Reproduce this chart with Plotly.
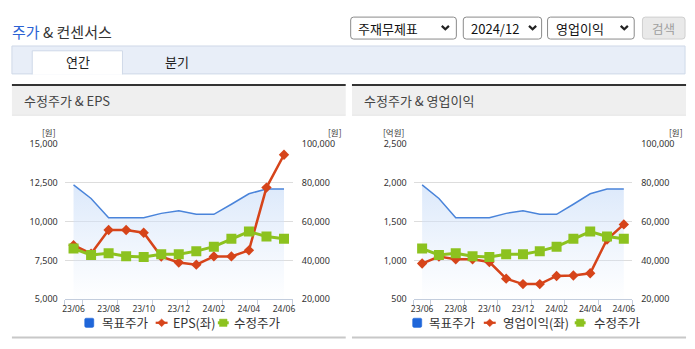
import plotly.graph_objects as go

W, H = 695, 349
KR = "Noto Sans CJK KR"
NUM = "Noto Sans"

# ---------------- data ----------------
categories = ["23/06", "23/07", "23/08", "23/09", "23/10", "23/11", "23/12",
              "24/01", "24/02", "24/03", "24/04", "24/05", "24/06"]
tick_labels = ["23/06", "23/08", "23/10", "23/12", "24/02", "24/04", "24/06"]
target_price = [79000, 72000, 62000, 62000, 62000, 64300, 65600, 63800, 63800, 69000, 74400, 76900, 76900]
adj_price = [46100, 42800, 43650, 42150, 41800, 43150, 43150, 44800, 47100, 51200, 54900, 52400, 51200]
eps = [8480, 7940, 9460, 9460, 9290, 7750, 7370, 7230, 7760, 7760, 8150, 12200, 14320]
op_profit = [960, 1050, 1015, 1015, 980, 765, 695, 695, 800, 805, 835, 1270, 1465]

left_ticks_eps = [5000, 7500, 10000, 12500, 15000]
left_ticks_op = [500, 1000, 1500, 2000, 2500]
right_ticks = [20000, 40000, 60000, 80000, 100000]

series_names_eps = ["목표주가", "EPS(좌)", "수정주가"]
series_names_op = ["목표주가", "영업이익(좌)", "수정주가"]

# ---------------- helpers ----------------
def X(px):
    return px / W

def Y(py):
    return 1 - py / H

x_idx = list(range(len(categories)))
tickvals = [categories.index(t) for t in tick_labels]
minor_vals = [-0.5] + [t + 0.5 for t in tickvals]

BLUE_LINE = "#4a84da"
RED = "#d6441a"
GREEN = "#8cc21f"
LEGEND_BLUE = "#1f66d9"

fig = go.Figure()

def add_chart(y_main, y_left, y_top, left_vals, xref):
    # target price area (right axis, main subplot -> drawn first)
    fig.add_trace(go.Scatter(
        x=x_idx, y=target_price, xaxis=xref, yaxis=y_main, mode="lines",
        line=dict(color=BLUE_LINE, width=1.5), fill="tozeroy",
        fillgradient=dict(type="vertical", start=21000, stop=80000,
                          colorscale=[[0, "rgba(214,229,250,0)"], [1, "rgba(206,224,249,0.72)"]]),
        showlegend=False, hoverinfo="skip"))
    # left-axis series (EPS / operating profit)
    fig.add_trace(go.Scatter(
        x=x_idx, y=left_vals, xaxis=xref, yaxis=y_left, mode="lines+markers",
        line=dict(color=RED, width=2.5),
        marker=dict(symbol="diamond", size=8, color=RED),
        showlegend=False, hoverinfo="skip"))
    # adjusted price (right axis, top overlay)
    fig.add_trace(go.Scatter(
        x=x_idx, y=adj_price, xaxis=xref, yaxis=y_top, mode="lines+markers",
        line=dict(color=GREEN, width=3),
        marker=dict(symbol="square", size=10, color=GREEN),
        showlegend=False, hoverinfo="skip"))

add_chart("y", "y2", "y5", eps, "x")
add_chart("y3", "y4", "y6", op_profit, "x2")

TOP, BOT = 142.5, 303.5
tickfont = dict(family=NUM, size=9, color="#333")
xfont = dict(family=NUM, size=8.5, color="#333")

def xaxis_cfg(x0, x1, anchor):
    return dict(domain=[X(x0), X(x1)], range=[-0.5, len(categories) - 0.5], anchor=anchor,
                tickmode="array", tickvals=tickvals, ticktext=tick_labels,
                ticks="", showgrid=False, zeroline=False, showline=True,
                linecolor="#c3cddd", linewidth=1, tickfont=xfont,
                ticklabelstandoff=2, fixedrange=True,
                minor=dict(tickmode="array", tickvals=minor_vals, ticks="outside",
                           ticklen=5, tickcolor="#c3cddd", tickwidth=1, showgrid=False))

def ymain_cfg(anchor):
    return dict(domain=[Y(BOT), Y(TOP)], anchor=anchor, side="right", range=[20000, 100000],
                tickmode="array", tickvals=right_ticks, tickformat=",",
                showgrid=True, gridcolor="#dddddd", gridwidth=1,
                zeroline=False, showline=False, ticks="",
                tickfont=tickfont, ticklabelstandoff=8, fixedrange=True)

def yleft_cfg(anchor, overlay, rng, ticks):
    return dict(overlaying=overlay, anchor=anchor, side="left", range=rng,
                tickmode="array", tickvals=ticks, tickformat=",",
                showgrid=False, zeroline=False, showline=False, ticks="",
                tickfont=tickfont, ticklabelstandoff=6, fixedrange=True)

def yhidden_cfg(anchor, overlay):
    return dict(overlaying=overlay, anchor=anchor, side="right", range=[20000, 100000],
                visible=False, showgrid=False, zeroline=False, fixedrange=True)

LX0, LX1 = 62.3, 292.3
RX0, RX1 = 414.3, 634.7

shapes = []
annotations = []

def rect(x0, y0, x1, y1, fill, line=None, lw=0, layer="below"):
    shapes.append(dict(type="rect", xref="paper", yref="paper",
                       x0=X(x0), x1=X(x1), y0=Y(y1), y1=Y(y0),
                       fillcolor=fill, line=dict(width=lw, color=line or fill), layer=layer))

def rrect(x0, y0, x1, y1, r, fill, line, lw=1, layer="below"):
    p = (f"M {X(x0 + r)},{Y(y0)} L {X(x1 - r)},{Y(y0)} Q {X(x1)},{Y(y0)} {X(x1)},{Y(y0 + r)} "
         f"L {X(x1)},{Y(y1 - r)} Q {X(x1)},{Y(y1)} {X(x1 - r)},{Y(y1)} "
         f"L {X(x0 + r)},{Y(y1)} Q {X(x0)},{Y(y1)} {X(x0)},{Y(y1 - r)} "
         f"L {X(x0)},{Y(y0 + r)} Q {X(x0)},{Y(y0)} {X(x0 + r)},{Y(y0)} Z")
    shapes.append(dict(type="path", xref="paper", yref="paper", path=p,
                       fillcolor=fill, line=dict(color=line, width=lw), layer=layer))

def polyline(pts, color, lw, fill=None, close=False):
    p = "M " + " L ".join(f"{X(a)},{Y(b)}" for a, b in pts) + (" Z" if close else "")
    d = dict(type="path", xref="paper", yref="paper", path=p,
             line=dict(color=color, width=lw), layer="above")
    if fill:
        d["fillcolor"] = fill
    shapes.append(d)

def text(x, y, s, size, color="#333", family=KR, xanchor="left"):
    annotations.append(dict(x=X(x), y=Y(y), xref="paper", yref="paper", text=s,
                            showarrow=False, xanchor=xanchor, yanchor="middle",
                            font=dict(family=family, size=size, color=color), borderpad=0))

# header title
text(8.5, 25, "<span style='color:#2a62d3'>주가</span> & 컨센서스", 15, "#333")

# dropdowns
rrect(350.7, 10.5, 457.3, 33.3, 3, "#ffffff", "#8a8a8a")
rrect(464.3, 10.5, 543.3, 33.3, 3, "#ffffff", "#8a8a8a")
rrect(549.3, 10.5, 636.7, 33.3, 3, "#ffffff", "#8a8a8a")
rrect(645, 10.5, 688, 33.3, 3, "#e9e9e9", "#cfcfcf")
text(357.5, 22, "주재무제표", 13, "#111")
text(471, 22, "2024/12", 13, "#111")
text(556.5, 22, "영업이익", 13, "#111")
text(666.5, 22, "검색", 12.5, "#9e9e9e", xanchor="center")
for cx in (446.2, 534.2, 626.7):
    polyline([(cx - 3.6, 19.6), (cx, 23.2), (cx + 3.6, 19.6)], "#222", 2.2)

# tab bar
rect(9, 40.5, 688, 69.5, "#e8eef8", "#cfd9e8", 1)
rect(29.5, 45.5, 120.5, 70.3, "#ffffff", None, 0)
polyline([(29.5, 70), (29.5, 45.5), (120.5, 45.5), (120.5, 70)], "#cfd9e8", 1)
text(75.5, 57, "연간", 13, "#222", xanchor="center")
text(176, 57, "분기", 13, "#222", xanchor="center")

# panels
for (px0, px1, title) in [(9, 345.7, "수정주가 & EPS"), (352, 689, "수정주가 & 영업이익")]:
    rect(px0, 80, px1, 82, "#333333")
    rect(px0, 82, px1, 112, "#efefef")
    rect(px0, 111.8, px1, 112.8, "#d8d8d8")
    rect(px0, 342.3, px1, 344.3, "#c8c8c8")
    text(px0 + 11, 97.5, title, 13, "#444")

# unit labels
unit_font = 8.5
UNIT_Y = 130
text(46.3, UNIT_Y, "[원]", unit_font, "#333", xanchor="center")
text(335, UNIT_Y, "[원]", unit_font, "#333", xanchor="center")
text(394, UNIT_Y, "[억원]", unit_font, "#333", xanchor="center")
text(678.5, UNIT_Y, "[원]", unit_font, "#333", xanchor="center")

# legends (icon + label rows under each chart)
LEG_Y = 328
def legend_row(names, icon_x, text_x):
    bx, rx, gx = icon_x
    rrect(bx - 4.6, LEG_Y - 4.8, bx + 4.6, LEG_Y + 4.8, 1.5, LEGEND_BLUE, LEGEND_BLUE, 0.5, layer="above")
    polyline([(rx - 6, LEG_Y), (rx + 6, LEG_Y)], RED, 2.2)
    polyline([(rx, LEG_Y - 4), (rx + 4, LEG_Y), (rx, LEG_Y + 4), (rx - 4, LEG_Y)], RED, 0.5, fill=RED, close=True)
    polyline([(gx - 5.5, LEG_Y), (gx + 5.5, LEG_Y)], GREEN, 3)
    rect(gx - 3.8, LEG_Y - 3.8, gx + 3.8, LEG_Y + 3.8, GREEN, GREEN, 0.5, layer="above")
    for nm, tx in zip(names, text_x):
        text(tx, LEG_Y, nm, 12.5, "#333")

legend_row(series_names_eps, (87, 160, 222.2), (98.5, 170, 232.5))
legend_row(series_names_op, (417.8, 491, 582.2), (428.5, 503.8, 595))

fig.update_layout(
    width=W, height=H, autosize=False,
    margin=dict(l=0, r=0, t=0, b=0, pad=0),
    paper_bgcolor="#ffffff", plot_bgcolor="rgba(0,0,0,0)",
    xaxis=xaxis_cfg(LX0, LX1, "y"),
    yaxis=ymain_cfg("x"),
    yaxis2=yleft_cfg("x", "y", [5000, 15000], left_ticks_eps),
    yaxis5=yhidden_cfg("x", "y"),
    xaxis2=xaxis_cfg(RX0, RX1, "y3"),
    yaxis3=ymain_cfg("x2"),
    yaxis4=yleft_cfg("x2", "y3", [500, 2500], left_ticks_op),
    yaxis6=yhidden_cfg("x2", "y3"),
    shapes=shapes, annotations=annotations,
    showlegend=False,
)

fig.write_html("out.html", config=dict(displayModeBar=False, staticPlot=True))
